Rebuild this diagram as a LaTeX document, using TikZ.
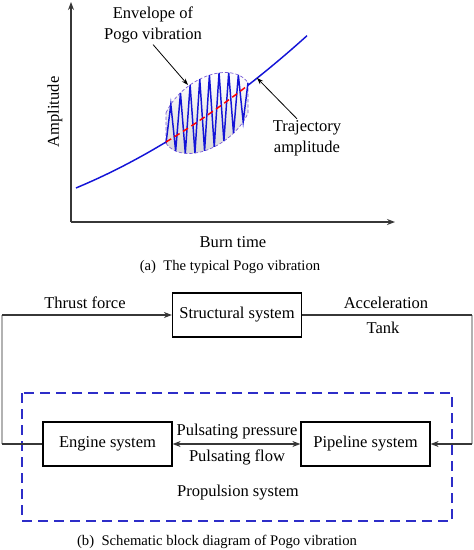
\documentclass[tikz,border=0pt]{standalone}
\usepackage{fontspec}
\setmainfont{Liberation Serif}
\usetikzlibrary{arrows.meta}
\definecolor{curveblue}{RGB}{20,20,215}
\definecolor{boxblue}{RGB}{45,45,200}
\definecolor{envline}{RGB}{120,90,215}
\definecolor{linegray}{RGB}{55,55,55}

\begin{document}
\begin{tikzpicture}[x=0.75pt, y=-0.75pt,
    lbl/.style={font=\fontsize{12.4}{15.5}\selectfont, inner sep=1pt, align=center},
    captext/.style={font=\fontsize{11}{13}\selectfont, inner sep=1pt},
    block/.style={draw=black, line width=0.9pt, minimum width=96.75pt, minimum height=33pt,
        inner sep=0pt, font=\fontsize{12.4}{15}\selectfont},
    axis/.style={draw=linegray, line width=1pt, -{Stealth[length=6pt,width=4.5pt]}},
    pointer/.style={draw=black, line width=0.6pt, -{Stealth[length=5pt,width=3.5pt]}},
    link/.style={draw=linegray, line width=1pt},
    feed/.style={draw=black!30, line width=1.6pt},
    tip/.style={-{Stealth[length=6pt,width=4.5pt]}},
    bitip/.style={{Stealth[length=6pt,width=4.5pt]}-{Stealth[length=6pt,width=4.5pt]}},
    traject/.style={draw=curveblue, line width=1.1pt},
    propbox/.style={draw=boxblue, line width=1.1pt, dash pattern=on 7.5pt off 4.5pt},
    declare function={traj(\x)=142-0.6055*(\x-166)-0.00105*(\x-166)*(\x-166);
        mid(\x)=113-0.366*(\x-207);
        half(\x)=37*sqrt(max(0,1-((\x-207)/45)*((\x-207)/45)));}]

    \useasboundingbox (0,0) rectangle (474,550);

    % Ejes
    \coordinate (O) at (71,222);
    \draw[axis] (O) -- (71,2);
    \draw[axis] (O) -- (395,222);
    \node[lbl, rotate=90] (amp) at (55,112) {Amplitude};
    \node[lbl] (burn) at (233,242) {Burn time};

    % Envolvente
    \shade[top color=white, bottom color=gray!30]
        plot[domain=166:248, samples=40] (\x, {mid(\x)-half(\x)})
        -- plot[domain=248:166, samples=40] (\x, {mid(\x)+half(\x)}) -- cycle;
    \draw[envline, line width=0.5pt, dash pattern=on 2.5pt off 1.5pt]
        plot[domain=166:248, samples=40] (\x, {mid(\x)-half(\x)})
        -- plot[domain=248:166, samples=40] (\x, {mid(\x)+half(\x)}) -- cycle;

    % Vibracion
    \draw[traject, line join=miter] (166, {mid(166)+half(166)})
        \foreach \k [evaluate=\k as \xx using 166+\k*82/17] in {1,...,17} {
            -- (\xx, {mid(\xx)+(1-2*mod(\k,2))*half(\xx)}) };

    % Trayectoria
    \draw[traject] plot[domain=76:166, samples=40] (\x, {traj(\x)});
    \draw[red, line width=1.1pt, dash pattern=on 4.5pt off 3pt]
        plot[domain=166:248, samples=30] (\x, {traj(\x)});
    \draw[traject] plot[domain=248:307, samples=30] (\x, {traj(\x)});

    % Etiquetas con flechas
    \node[lbl] (envlbl) at (153,25) {Envelope of\\Pogo vibration};
    \coordinate (envtip) at (188,85);
    \draw[pointer] (envlbl.south) -- (envtip);

    \node[lbl] (trajlbl) at (307,138) {Trajectory\\amplitude};
    \coordinate (trajtip) at (257,78);
    \draw[pointer] ([xshift=-7.5pt]trajlbl.north) -- (trajtip);

    \node[captext] (capa) at (230,267) {(a)\ \ The typical Pogo vibration};

    % Diagrama de bloques
    \node[block] (struct) at (237,315) {Structural system};
    \node[block] (engine) at (107.5,444) {Engine system};
    \node[block] (pipe) at (365.5,444) {Pipeline system};

    \draw[propbox] (22,393) rectangle (452,521);
    \node[lbl] (prop) at (238,493) {Propulsion system};

    \coordinate (lt) at (2,315);
    \coordinate (lb) at (2,444);
    \coordinate (rt) at (472,315);
    \coordinate (rb) at (472,444);

    % Lazo
    \draw[feed] (lb) -- (lt);
    \draw[feed] (rt) -- (rb);
    \draw[link, tip] (lt) -- (struct);
    \draw[link] (struct) -- (rt);
    \draw[link, tip] (rb) -- (pipe);
    \draw[link] (engine) -- (lb);
    \draw[link, bitip] (engine) -- (pipe);

    \node[lbl] (thrust) at (85,303) {Thrust force};
    \node[lbl] (accel) at (386,303) {Acceleration};
    \node[lbl] (tank) at (383,328) {Tank};
    \node[lbl] (press) at (237,432) {Pulsating pressure};
    \node[lbl] (flow) at (237,457) {Pulsating flow};

    \node[captext] (capb) at (217,542) {(b)\ \ Schematic block diagram of Pogo vibration};
\end{tikzpicture}
\end{document}
